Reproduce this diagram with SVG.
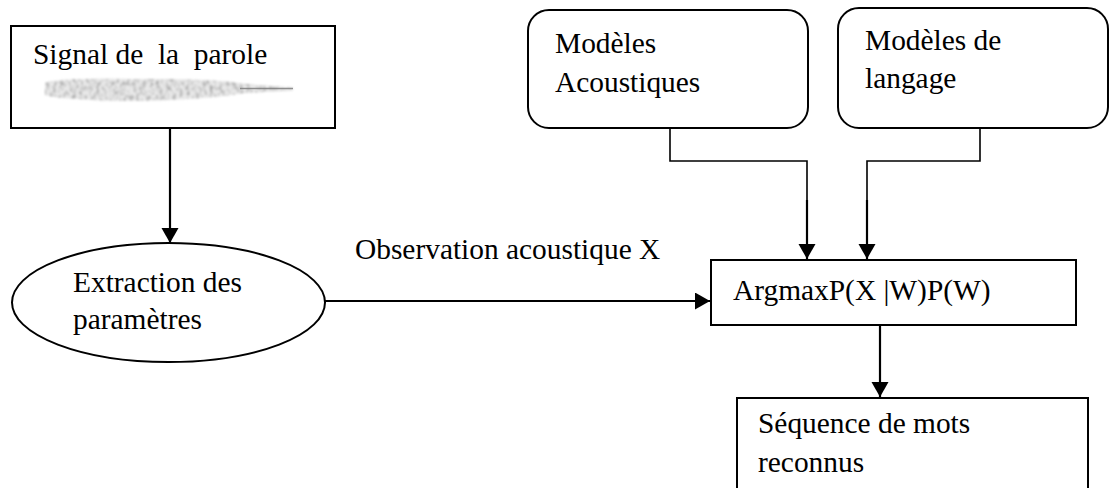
<svg xmlns="http://www.w3.org/2000/svg" width="1110" height="488" viewBox="0 0 1110 488">
  <style>
    .box { fill: #fff; stroke: #000; stroke-width: 2; }
    .lbl { font-family: "Liberation Serif", "Times New Roman", serif; font-size: 29.4px; fill: #000; white-space: pre; }
    .wire { fill: none; stroke: #000; stroke-width: 2.2; }
    .thin { fill: none; stroke: #000; stroke-width: 1.6; }
  </style>
  <defs>
    <marker id="head" markerUnits="userSpaceOnUse" markerWidth="16" markerHeight="18" refX="15" refY="8.5" orient="auto">
      <path d="M0,0 L15,8.5 L0,17 Z" fill="#000"/>
    </marker>
    <!-- speckled, soft grey texture for the speech waveform -->
    <filter id="grain" x="-0.02" y="-0.2" width="1.04" height="1.4">
      <feTurbulence type="fractalNoise" baseFrequency="0.3 0.22" numOctaves="3" seed="11" result="n"/>
      <feColorMatrix in="n" type="matrix" values="0 0 0 0 0.4  0 0 0 0 0.4  0 0 0 0 0.4  0 0 0 3 -1.3" result="g"/>
      <feComposite in="g" in2="SourceGraphic" operator="in" result="t"/>
      <feMerge><feMergeNode in="SourceGraphic"/><feMergeNode in="t"/></feMerge>
      <feGaussianBlur stdDeviation="0.9"/>
    </filter>
  </defs>

  <g id="connectors">
    <line class="wire" x1="170" y1="128" x2="170" y2="243" marker-end="url(#head)"/>
    <line class="wire" x1="325" y1="301" x2="710" y2="301" marker-end="url(#head)"/>
    <polyline class="thin" points="670,128 670,161 807,161 807,259" />
    <line class="wire" x1="807" y1="200" x2="807" y2="259" marker-end="url(#head)"/>
    <polyline class="thin" points="980,128 980,161 867,161 867,259" />
    <line class="wire" x1="867" y1="200" x2="867" y2="259" marker-end="url(#head)"/>
    <line class="wire" x1="880" y1="325" x2="880" y2="397" marker-end="url(#head)"/>
  </g>

  <g id="signal">
    <rect class="box" x="11" y="26" width="324" height="102"/>
    <text class="lbl" x="33" y="64">Signal de  la  parole</text>
    <path d="M45,83 C52,79 90,78 140,79 C190,79 225,80 245,84 L293,87.5 L293,90.5 L245,93 C215,98 180,100 140,101 C100,101 60,99 45,95 Z" fill="#e8e8e8" filter="url(#grain)"/>
    <path d="M240,88.5 L293,88.5" stroke="#7a7a7a" stroke-width="1.6" fill="none" opacity="0.8"/>
  </g>

  <g id="extraction">
    <ellipse class="box" cx="168.5" cy="302.5" rx="156.5" ry="59.5"/>
    <text class="lbl" x="73" y="292">Extraction des</text>
    <text class="lbl" x="73" y="329">paramètres</text>
  </g>

  <g id="observation-label">
    <text class="lbl" x="355" y="259">Observation acoustique X</text>
  </g>

  <g id="acoustic-models">
    <rect class="box" x="528" y="10" width="280" height="118" rx="21"/>
    <text class="lbl" x="555" y="53">Modèles</text>
    <text class="lbl" x="555" y="92">Acoustiques</text>
  </g>

  <g id="language-models">
    <rect class="box" x="838" y="8" width="270" height="120" rx="21"/>
    <text class="lbl" x="865" y="50">Modèles de</text>
    <text class="lbl" x="865" y="88">langage</text>
  </g>

  <g id="argmax">
    <rect class="box" x="711" y="260" width="365" height="65"/>
    <text class="lbl" x="733" y="300">ArgmaxP(X |W)P(W)</text>
  </g>

  <g id="sequence">
    <rect class="box" x="737" y="398" width="351" height="100"/>
    <text class="lbl" x="758" y="433">Séquence de mots</text>
    <text class="lbl" x="758" y="472">reconnus</text>
  </g>
</svg>
